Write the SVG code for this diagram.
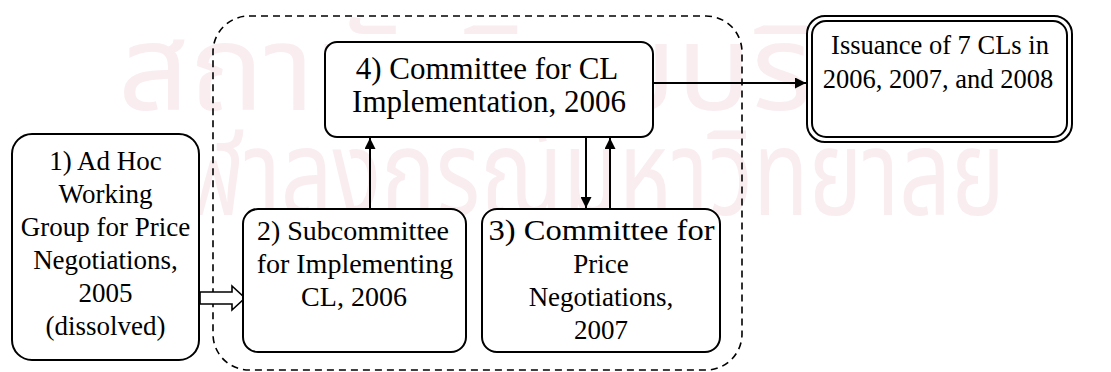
<svg xmlns="http://www.w3.org/2000/svg" width="1111" height="372" viewBox="0 0 1111 372">
  <defs>
    <marker id="head" viewBox="0 0 10 10" refX="10" refY="5" markerWidth="11" markerHeight="11" markerUnits="userSpaceOnUse" orient="auto">
      <path d="M0,0 L10,5 L0,10 Z" fill="#000"/>
    </marker>
    <style>
      .wm { font-family: "Noto Sans Thai", "Noto Sans", "DejaVu Sans", sans-serif; font-size: 120px; fill: #f9edf0; }
      .box { fill: #fff; stroke: #000; stroke-width: 2; }
      .lbl { font-family: "Liberation Serif", "Times New Roman", serif; fill: #000; text-anchor: middle; }
      .wire { stroke: #000; stroke-width: 2; fill: none; }
    </style>
  </defs>
  <rect width="1111" height="372" fill="#fff"/>

  <!-- background watermark -->
  <g id="watermark">
    <text class="wm" x="118" y="110" textLength="880" lengthAdjust="spacingAndGlyphs">สถาบันวิทยบริการ</text>
    <text class="wm" x="135" y="215" textLength="870" lengthAdjust="spacingAndGlyphs">จุฬาลงกรณ์มหาวิทยาลัย</text>
  </g>

  <!-- dashed grouping frame -->
  <rect id="frame" x="213" y="16" width="529" height="354" rx="36" ry="36" fill="none" stroke="#000" stroke-width="1.6" stroke-dasharray="7,5"/>

  <g id="connectors">
    <line class="wire" x1="370" y1="209" x2="370" y2="138" marker-end="url(#head)"/>
    <line class="wire" x1="586" y1="137" x2="586" y2="208" marker-end="url(#head)"/>
    <line class="wire" x1="610" y1="209" x2="610" y2="138" marker-end="url(#head)"/>
    <line class="wire" x1="653" y1="83" x2="806" y2="83" marker-end="url(#head)"/>
    <!-- hollow block arrow -->
    <path d="M200,292 H232 V286 L245,298 L232,310 V304 H200 Z" fill="#fff" stroke="#000" stroke-width="1.6" stroke-linejoin="miter"/>
  </g>

  <g id="node1" font-size="27">
    <rect class="box" x="12" y="134" width="187" height="226" rx="20" ry="20"/>
    <text class="lbl" x="105.5" y="170">1) Ad Hoc</text>
    <text class="lbl" x="105.5" y="203">Working</text>
    <text class="lbl" x="105.5" y="236">Group for Price</text>
    <text class="lbl" x="105.5" y="269">Negotiations,</text>
    <text class="lbl" x="105.5" y="302">2005</text>
    <text class="lbl" x="105.5" y="335">(dissolved)</text>
  </g>

  <g id="node2" font-size="28">
    <rect class="box" x="243" y="209" width="223" height="143" rx="15" ry="15"/>
    <text class="lbl" x="353" y="240">2) Subcommittee</text>
    <text class="lbl" x="355" y="273">for Implementing</text>
    <text class="lbl" x="354" y="306">CL, 2006</text>
  </g>

  <g id="node3" font-size="27">
    <rect class="box" x="482" y="209" width="238" height="143" rx="15" ry="15"/>
    <text class="lbl" x="601.5" y="240" font-size="29" textLength="226" lengthAdjust="spacingAndGlyphs">3) Committee for</text>
    <text class="lbl" x="601" y="273">Price</text>
    <text class="lbl" x="601" y="306">Negotiations,</text>
    <text class="lbl" x="601" y="339">2007</text>
  </g>

  <g id="node4" font-size="31">
    <rect class="box" x="325" y="42" width="328" height="95" rx="12" ry="12"/>
    <text class="lbl" x="487" y="79">4) Committee for CL</text>
    <text class="lbl" x="489" y="112">Implementation, 2006</text>
  </g>

  <g id="node5" font-size="26.5">
    <rect class="box" x="807" y="16" width="265" height="126" rx="18" ry="18"/>
    <rect class="box" x="812" y="21" width="255" height="116" rx="14" ry="14"/>
    <text class="lbl" x="940" y="54">Issuance of 7 CLs in</text>
    <text class="lbl" x="938" y="88">2006, 2007, and 2008</text>
  </g>
</svg>
